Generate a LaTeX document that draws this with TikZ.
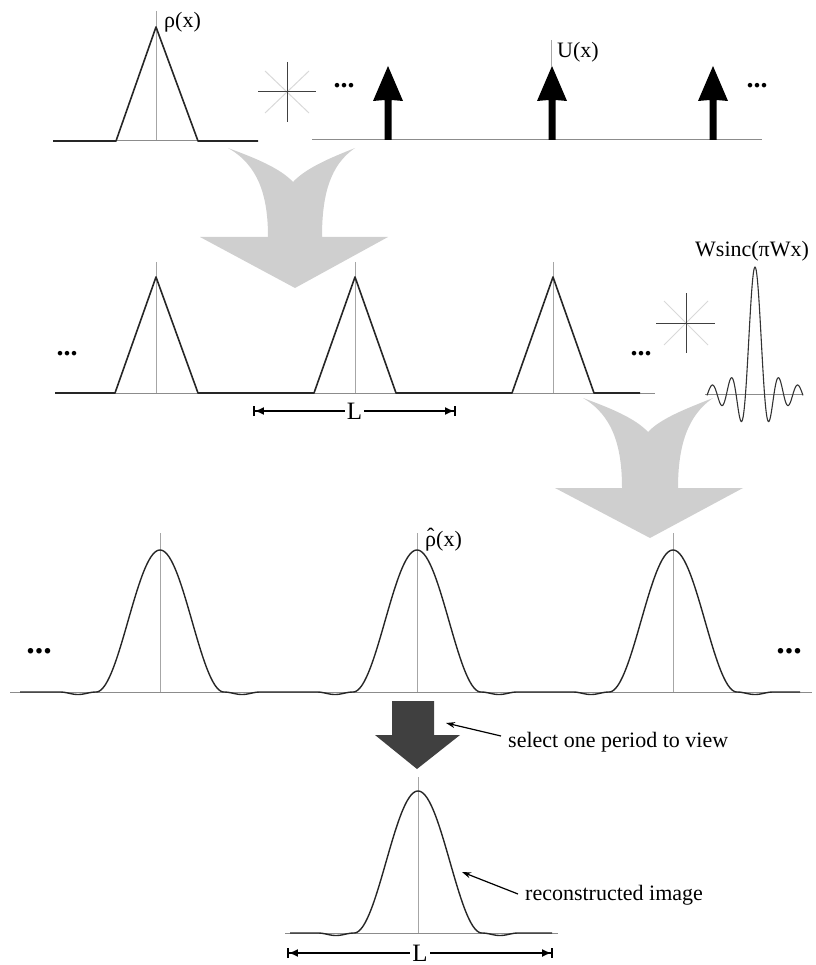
\documentclass[tikz,border=0pt]{standalone}
\usepackage{fontspec}
\setmainfont{Liberation Serif}
\usetikzlibrary{arrows.meta}
\begin{document}
\begin{tikzpicture}[x=1pt,y=-1pt,
  gbase/.style={draw=black!45, line width=1pt},
  cline/.style={draw=black!35, line width=0.8pt},
  curve/.style={draw=black!85, line width=1.6pt, line join=round},
  sincline/.style={draw=black!80, line width=1.1pt},
  lbl/.style={font=\fontsize{22}{24}\selectfont, inner sep=0pt},
  dotsA/.style={font=\fontsize{28}{28}\selectfont\bfseries, inner sep=0pt},
  dotsB/.style={font=\fontsize{34}{34}\selectfont\bfseries, inner sep=0pt},
  bigarrow/.style={fill=black!19, draw=none},
  darkarrow/.style={fill=black!75, draw=none},
  imp/.style={fill=black, draw=none},
  starmain/.style={draw=black!75, line width=1pt},
  stardiag/.style={draw=black!15, line width=1pt},
  Lspan/.style={draw=black, line width=1.8pt, {Bar[width=10pt]Latex[length=9pt,width=8pt]}-{Latex[length=9pt,width=8pt]Bar[width=10pt]}},
  Llbl/.style={fill=white, inner sep=2pt, font=\fontsize{25}{26}\selectfont},
  note/.style={draw=black, line width=1.2pt, -{Stealth[length=9pt,width=6pt]}},
  declare function={
    pk(\u)=(abs(\u)<64)*142*cos(1.40625*\u)*cos(1.40625*\u) - (abs(\u)>=64)*(abs(\u)<100)*2.5*sin(5*(abs(\u)-64))*sin(5*(abs(\u)-64));
  }
]
\useasboundingbox (0,0) rectangle (815,965);

% ---------- big gray arrows ----------
\fill[bigarrow] (228,148) .. controls (255,158) and (280,168) .. (293,182)
  .. controls (306,168) and (330,158) .. (355,148)
  .. controls (330,165) and (322,195) .. (322,237)
  -- (388,237) -- (295,288) -- (200,237) -- (268,237)
  .. controls (268,195) and (258,165) .. (228,148) -- cycle;
\fill[bigarrow] (583,398) .. controls (610,408) and (635,418) .. (648,432)
  .. controls (661,418) and (688,408) .. (713,398)
  .. controls (688,415) and (678,445) .. (678,488)
  -- (743,488) -- (650,538) -- (555,488) -- (622,488)
  .. controls (622,445) and (612,415) .. (583,398) -- cycle;

% ---------- row 1 ----------
\draw[cline] (156,11) -- (156,141);
\draw[gbase] (53,141) -- (258,141);
\draw[curve] (53,141) -- (116,141) -- (156,27) -- (198,141) -- (258,141);
\node[lbl, anchor=base west] (rho) at (164,28) {ρ(x)};

\draw[stardiag] (265,71) -- (309,113) (265,113) -- (309,71);
\draw[starmain] (258,92) -- (316,92) (287,62) -- (287,122);

\draw[gbase] (312,140) -- (762,140);
\node[dotsA] (d1) at (344,86) {...};
\node[dotsA] (d2) at (757,86) {...};
\foreach \c in {388,552,713}{
  \fill[imp] (\c-3.5,140) -- (\c-3.5,100) -- (\c-15,101) -- (\c,66) -- (\c+15,101) -- (\c+3.5,100) -- (\c+3.5,140) -- cycle;
}
\draw[cline] (551,40) -- (551,67);
\node[lbl, anchor=base west] (ux) at (557,58) {U(x)};

% ---------- row 2 ----------
\foreach \c in {156,355,553}{ \draw[cline] (\c,262) -- (\c,393); }
\draw[gbase] (55,393) -- (655,393);
\draw[curve] (55,393) -- (115,393) -- (156,277) -- (198,393) -- (314,393) -- (355,277) -- (396,393)
  -- (512,393) -- (553,277) -- (594,393) -- (640,393);
\node[dotsA] (d3) at (67,354) {...};
\node[dotsA] (d4) at (641,354) {...};

\coordinate (L1a) at (253,411);
\coordinate (L1b) at (456,411);
\draw[Lspan] (L1a) -- (L1b) node[midway, Llbl] (L1) {L};

\draw[stardiag] (664,301) -- (708,345) (664,345) -- (708,301);
\draw[starmain] (656,323) -- (715,323) (686,293) -- (686,353);

\draw[gbase] (705,394) -- (803,394);
\draw[sincline] plot[domain=-48:48, samples=192] ({755+\x},{394-127*sin(180*\x/9.5)/(pi*\x/9.5)});
\node[lbl, anchor=base west] (sinc) at (695,257) {Wsinc(πWx)};

% ---------- row 3 ----------
\foreach \c in {160,417,673}{ \draw[cline] (\c,533) -- (\c,692); }
\draw[gbase] (10,692) -- (812,692);
\draw[curve, line width=1.4pt] plot[domain=20:800, samples=781] ({\x},{692-pk(\x-160)-pk(\x-417)-pk(\x-673)});
\node[dotsB] (d5) at (39,651) {...};
\node[dotsB] (d6) at (789,651) {...};
\node[lbl, anchor=base west] (rhohat) at (425,546) {\ooalign{ρ\cr\hidewidth\raisebox{0.12em}{ˆ}\hidewidth\cr}(x)};

% ---------- dark arrow ----------
\fill[darkarrow] (392,701) -- (434,701) -- (434,735) -- (460,735) -- (417,769) -- (375,735) -- (392,735) -- cycle;
\coordinate (selTip) at (446,723);
\node[lbl, anchor=west] (sel) at (508,742) {select one period to view};
\draw[note] ([xshift=-7pt,yshift=6pt]sel.west) -- (selTip);

% ---------- bottom ----------
\draw[cline] (418,777) -- (418,933);
\draw[gbase] (285,933) -- (558,933);
\draw[curve, line width=1.4pt] plot[domain=290:552, samples=263] ({\x},{933-pk(\x-418)});
\coordinate (recTip) at (462,872);
\node[lbl, anchor=west] (rec) at (525,895) {reconstructed image};
\draw[note] ([xshift=-7pt,yshift=1pt]rec.west) -- (recTip);

\coordinate (L2a) at (287,953);
\coordinate (L2b) at (553,953);
\draw[Lspan] (L2a) -- (L2b) node[midway, Llbl] (L2) {L};
\end{tikzpicture}
\end{document}
